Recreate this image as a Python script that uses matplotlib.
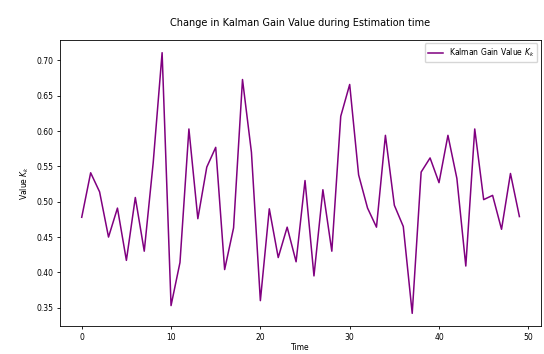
import numpy as np
import matplotlib.pyplot as plt

# --- data ---
time_steps = np.arange(50)
kalman_gain = [
    0.478, 0.541, 0.514, 0.450, 0.491, 0.417, 0.506, 0.430, 0.555, 0.711,
    0.353, 0.414, 0.603, 0.476, 0.549, 0.577, 0.404, 0.463, 0.673, 0.570,
    0.360, 0.490, 0.421, 0.464, 0.415, 0.530, 0.395, 0.517, 0.430, 0.621,
    0.666, 0.538, 0.491, 0.464, 0.594, 0.495, 0.465, 0.342, 0.542, 0.562,
    0.527, 0.594, 0.533, 0.409, 0.603, 0.503, 0.509, 0.461, 0.540, 0.479,
]

fig = plt.figure(figsize=(5.44, 3.54), dpi=100)
ax = fig.add_axes([0.110, 0.078, 0.885, 0.810])

ax.plot(time_steps, kalman_gain, color='purple', linewidth=1.1,
        label='Kalman Gain Value $K_k$')

ax.set_title('Change in Kalman Gain Value during Estimation time', fontsize=7, pad=10)
ax.set_xlabel('Time', fontsize=5.5, labelpad=1)
ax.set_ylabel('Value $K_k$', fontsize=5.5)
ax.tick_params(labelsize=5.5, length=2.5, width=0.6, pad=2)
for sp in ax.spines.values():
    sp.set_linewidth(0.6)
ax.legend(loc='upper right', fontsize=5.5)

plt.savefig('out.png')
